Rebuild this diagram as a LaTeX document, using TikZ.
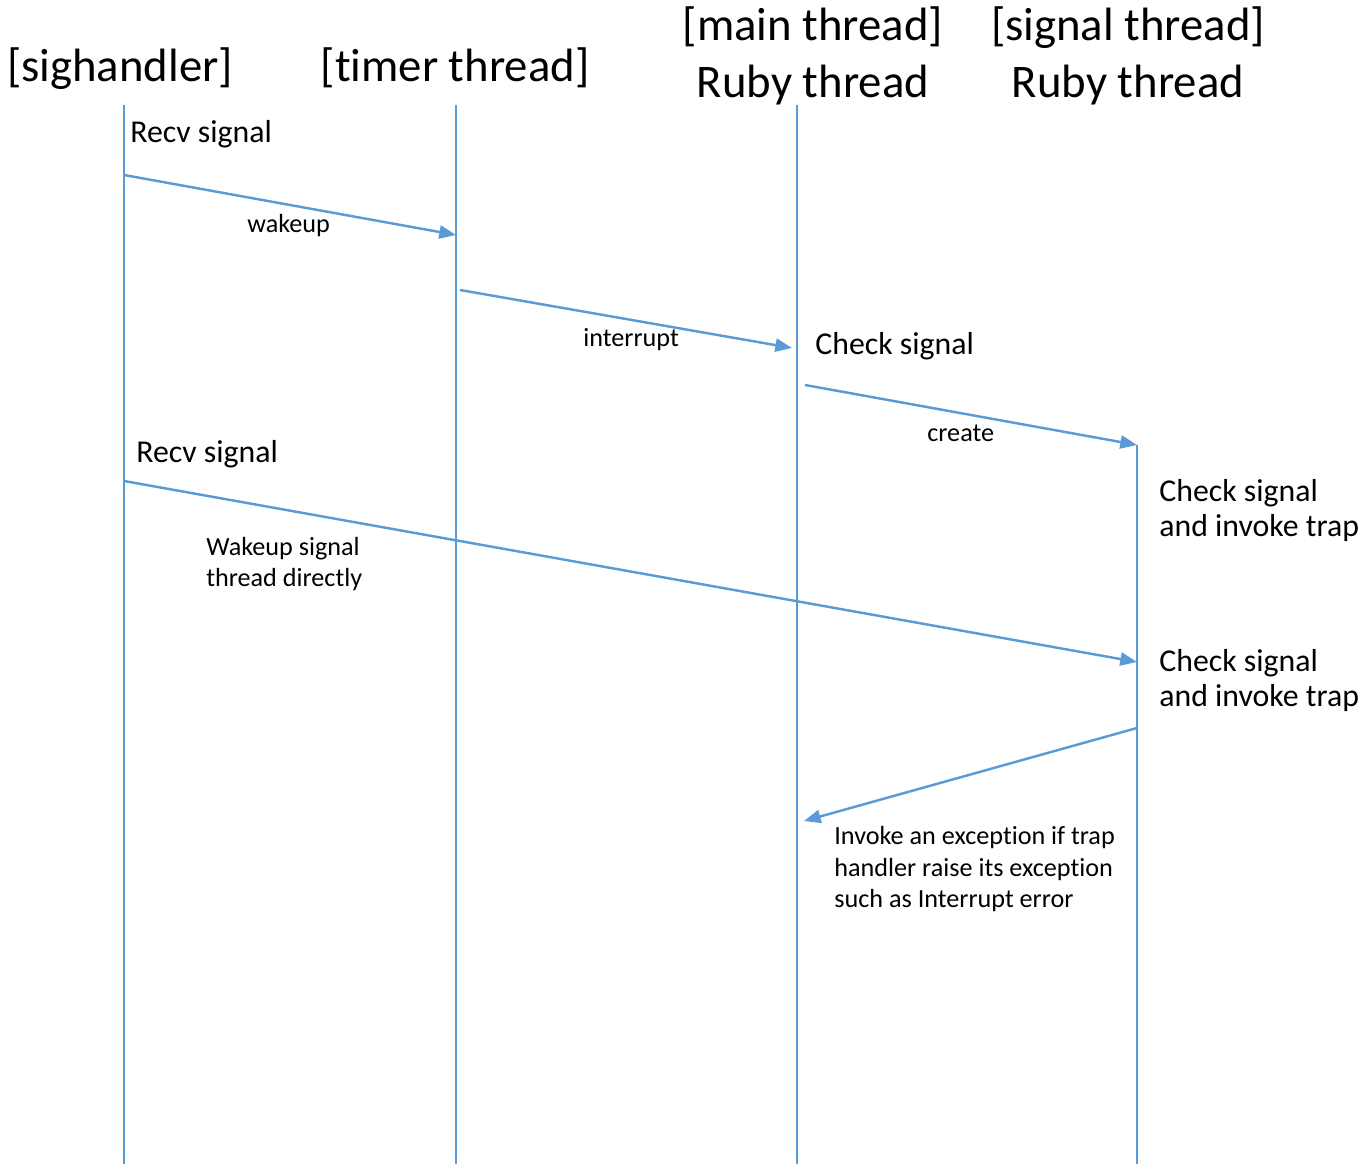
\documentclass[tikz,border=0pt]{standalone}
\usepackage{fontspec}
\setmainfont[RawFeature={-liga}]{Carlito}
\usetikzlibrary{arrows.meta}
\definecolor{lineblue}{HTML}{5B9BD5}
\tikzset{
  lifeline/.style={draw=lineblue, line width=0.75pt},
  msg/.style={draw=lineblue, line width=1.4pt, -{Triangle[length=9.5pt,width=7.5pt]}},
  title/.style={font=\fontsize{26.6}{32.6}\selectfont, inner sep=0pt, anchor=base, align=center},
  note/.style={font=\fontsize{18.1}{20.4}\selectfont, inner sep=0pt, anchor=base west, align=left},
  msglabel/.style={font=\fontsize{14.9}{18.1}\selectfont, inner sep=0pt, anchor=base west, align=left},
}
\begin{document}
\begin{tikzpicture}[x=0.02cm, y=-0.02cm]
\useasboundingbox (0,0) rectangle (1370,1168);

\node[title] (sighandler) at (120,82) {[sighandler]};
\node[title] (timer) at (455,82) {[timer thread]};
\node[title] (mainth) at (813,98) {[main thread]\\Ruby thread};
\node[title] (sigth) at (1128,98) {[signal thread]\\Ruby thread};

\foreach \x in {124,456,797}
  \draw[lifeline] (\x,105) -- (\x,1164);
\draw[lifeline] (1137,445) -- (1137,1164);

\coordinate (wakeA) at (124,175);
\coordinate (wakeB) at (456,235);
\coordinate (intrA) at (460,290);
\coordinate (intrB) at (792,348);
\coordinate (creA) at (805,385);
\coordinate (creB) at (1137,445);
\coordinate (directA) at (124,481);
\coordinate (directB) at (1137,662);
\coordinate (raiseA) at (1137,728);
\coordinate (raiseB) at (804,821);

\draw[msg] (wakeA) -- (wakeB);
\draw[msg] (intrA) -- (intrB);
\draw[msg] (creA) -- (creB);
\draw[msg] (directA) -- (directB);
\draw[msg] (raiseA) -- (raiseB);

\node[note] (recv1) at (130,143) {Recv signal};
\node[note] (check1) at (815,355) {Check signal};
\node[note] (recv2) at (136,463) {Recv signal};
\node[note] (trap1) at (1159,537) {Check signal\\and invoke trap};
\node[note] (trap2) at (1159,707) {Check signal\\and invoke trap};

\node[msglabel] (wakelbl) at (247,233) {wakeup};
\node[msglabel] (intrlbl) at (583,347) {interrupt};
\node[msglabel] (crelbl) at (927,442) {create};
\node[msglabel] (directlbl) at (206,587) {Wakeup signal\\thread directly};
\node[msglabel] (raiselbl) at (834,908) {Invoke an exception if trap\\handler raise its exception\\such as Interrupt error};

\end{tikzpicture}
\end{document}
